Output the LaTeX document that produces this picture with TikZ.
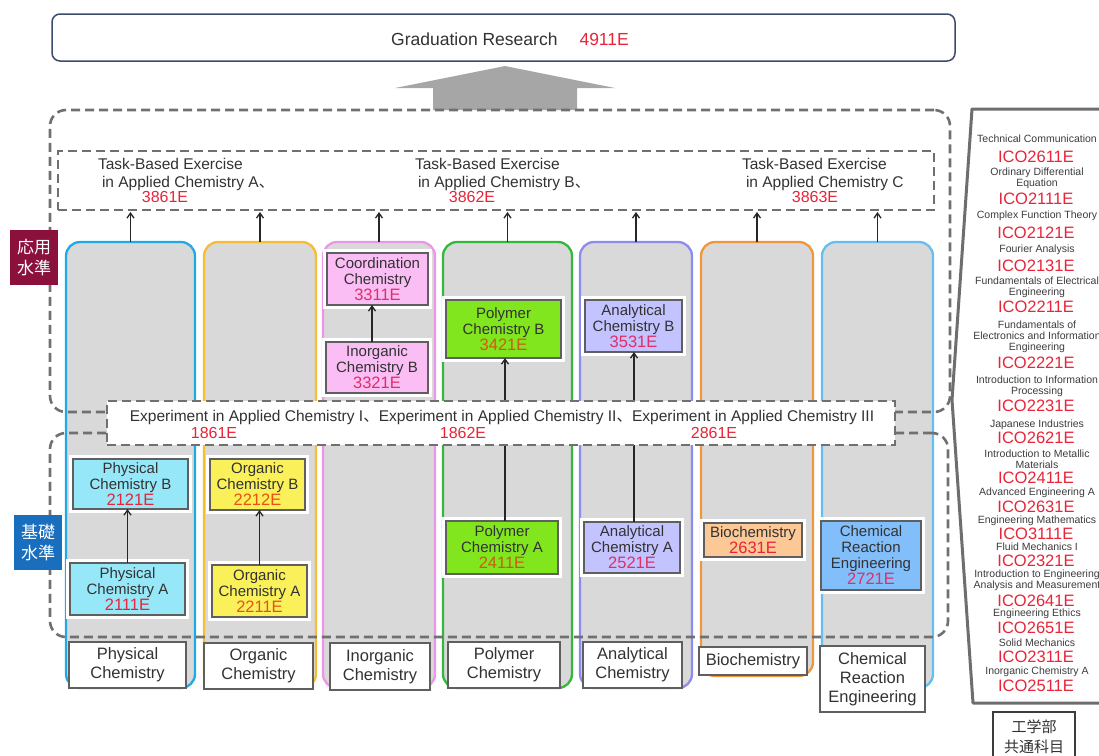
\documentclass[tikz,border=0pt]{standalone}
\usepackage{fontspec}
\setmainfont{Liberation Sans}
\newfontfamily\jpfont{Noto Sans CJK JP}
\usetikzlibrary{arrows.meta}
\definecolor{txt}{RGB}{50,50,50}
\definecolor{codered}{RGB}{232,36,56}
\definecolor{codeorange}{RGB}{232,82,20}
\definecolor{codepoly}{RGB}{205,90,20}
\definecolor{codepink}{RGB}{222,48,104}
\definecolor{gradblue}{RGB}{60,74,110}
\definecolor{arrowgray}{RGB}{166,166,166}
\definecolor{colgray}{RGB}{217,217,217}
\definecolor{dashgray}{RGB}{112,112,112}
\definecolor{boxborder}{RGB}{95,95,95}
\definecolor{physcol}{RGB}{30,170,230}
\definecolor{orgcol}{RGB}{245,190,50}
\definecolor{inorgcol}{RGB}{235,150,230}
\definecolor{polycol}{RGB}{50,185,60}
\definecolor{anacol}{RGB}{140,140,240}
\definecolor{biocol}{RGB}{240,150,60}
\definecolor{crecol}{RGB}{100,190,240}
\definecolor{physfill}{RGB}{150,232,248}
\definecolor{orgfill}{RGB}{250,240,90}
\definecolor{inorgfill}{RGB}{250,190,245}
\definecolor{polyfill}{RGB}{130,230,30}
\definecolor{anafill}{RGB}{195,195,255}
\definecolor{biofill}{RGB}{252,200,150}
\definecolor{crefill}{RGB}{130,190,250}
\definecolor{maroon}{RGB}{140,16,60}
\definecolor{lvblue}{RGB}{26,110,190}
\definecolor{pgray}{RGB}{60,60,60}
\definecolor{panelgray}{RGB}{110,110,110}
\newcommand\setfs[2]{\fontsize{#1}{#2}\selectfont}
\newcommand\ccode[2]{{\setfs{16.5}{16}\color{#1}#2}}
\begin{document}
\begin{tikzpicture}[x=1pt,y=-1pt,
  every node/.style={inner sep=0pt, outer sep=0pt, text=txt},
  colbox/.style={draw=#1, line width=2.3pt, fill=colgray, rounded corners=14pt},
  dashbox/.style={draw=dashgray, line width=2.6pt, dash pattern=on 9pt off 5pt},
  course/.style={draw=boxborder, line width=1.3pt, fill=#1, preaction={draw=white, line width=8pt}, align=center, font=\setfs{15}{16}},
  labbox/.style={draw=boxborder, line width=1.3pt, fill=white, align=center, font=\setfs{16.5}{19}},
  jbox/.style={fill=#1, text=white, align=center, font=\jpfont\setfs{17}{21}},
  arr/.style={-{Straight Barb[length=5pt,width=7pt]}, line width=1.3pt, draw=black!85},
  tasktxt/.style={font=\setfs{15.5}{18}},
  codetxt/.style={font=\setfs{16}{18}, text=codered},
  ptext/.style={align=center, font=\setfs{10.5}{11}, text=pgray},
  pcode/.style={font=\setfs{16.5}{18}, text=codered}]
\useasboundingbox (0,0) rectangle (1099,755);

% graduation research
\node[draw=gradblue, line width=1.5pt, rounded corners=8pt, minimum width=903, minimum height=47, fill=white] (grad) at (503.5,37.5) {};
\node[font=\setfs{17.5}{20}, anchor=base] (gradt) at (510,45) {Graduation Research\hspace{22pt}{\color{codered}4911E}};

% big arrow
\fill[arrowgray] (433,110) -- (433,88) -- (395,88) -- (505,66) -- (615,88) -- (577,88) -- (577,110) -- cycle;

% columns
\node[colbox=physcol, minimum width=129, minimum height=446] (c1) at (130.5,465) {};
\node[colbox=orgcol, minimum width=112, minimum height=446] (c2) at (260,465) {};
\node[colbox=inorgcol, minimum width=112, minimum height=446] (c3) at (379,465) {};
\node[colbox=polycol, minimum width=129, minimum height=446] (c4) at (507.5,465) {};
\node[colbox=anacol, minimum width=112, minimum height=446] (c5) at (636,465) {};
\node[colbox=biocol, minimum width=112, minimum height=434] (c6) at (757,459) {};
\node[colbox=crecol, minimum width=111, minimum height=446] (c7) at (877.5,465) {};

% dashed frames
\node[dashbox, rounded corners=16pt, minimum width=900, minimum height=302] (upper) at (500,261) {};
\node[dashbox, rounded corners=16pt, minimum width=898, minimum height=204] (lower) at (499,535) {};
\node[dashbox, minimum width=876, minimum height=59] (task) at (496,180.5) {};

% arrows from columns to task box
\foreach \c in {c1,c2,c3,c4,c5,c6,c7}
  \draw[arr, shorten >=2pt] (\c.north) -- (\c.north |- task.south);

% task texts
\node[tasktxt, anchor=base west] (ta1) at (98,169.5) {Task-Based Exercise};
\node[tasktxt, anchor=base west] (ta2) at (102,187.5) {in Applied Chemistry A{\jpfont 、}};
\node[codetxt] (ta3) at (165,197) {3861E};
\node[tasktxt, anchor=base west] (tb1) at (415,169.5) {Task-Based Exercise};
\node[tasktxt, anchor=base west] (tb2) at (418,187.5) {in Applied Chemistry B{\jpfont 、}};
\node[codetxt] (tb3) at (472,197) {3862E};
\node[tasktxt, anchor=base west] (tc1) at (742,169.5) {Task-Based Exercise};
\node[tasktxt, anchor=base west] (tc2) at (746,187.5) {in Applied Chemistry C};
\node[codetxt] (tc3) at (815,197) {3863E};

% course boxes
\node[course=physfill, minimum width=115, minimum height=50] (physB) at (130.5,484) {Physical\\Chemistry B\\\ccode{codered}{2121E}};
\node[course=physfill, minimum width=115, minimum height=52] (physA) at (127.5,589) {Physical\\Chemistry A\\\ccode{codered}{2111E}};
\node[course=orgfill, minimum width=95, minimum height=51] (orgB) at (257.5,484.5) {Organic\\Chemistry B\\\ccode{codeorange}{2212E}};
\node[course=orgfill, minimum width=95, minimum height=52] (orgA) at (259.5,591) {Organic\\Chemistry A\\\ccode{codeorange}{2211E}};
\node[course=inorgfill, minimum width=101, minimum height=52] (coord) at (377.5,279) {Coordination\\Chemistry\\\ccode{codepink}{3311E}};
\node[course=inorgfill, minimum width=102, minimum height=51] (inorgB) at (377,367.5) {Inorganic\\Chemistry B\\\ccode{codepink}{3321E}};
\node[course=polyfill, minimum width=115, minimum height=58] (polyB) at (503.5,329) {Polymer\\Chemistry B\\\ccode{codepoly}{3421E}};
\node[course=polyfill, minimum width=112, minimum height=53] (polyA) at (502,547.5) {Polymer\\Chemistry A\\\ccode{codepoly}{2411E}};
\node[course=anafill, minimum width=97, minimum height=52] (anaB) at (633.5,326) {Analytical\\Chemistry B\\\ccode{codepink}{3531E}};
\node[course=anafill, minimum width=96, minimum height=51] (anaA) at (632,547.5) {Analytical\\Chemistry A\\\ccode{codepink}{2521E}};
\node[course=biofill, minimum width=98, minimum height=34] (bio) at (753,540) {Biochemistry\\\ccode{codered}{2631E}};
\node[course=crefill, minimum width=100, minimum height=69] (cre) at (871,555.5) {Chemical\\Reaction\\Engineering\\\ccode{codepink}{2721E}};

% connectors between courses
\draw[arr] (physA.north) -- (physA.north |- physB.south);
\draw[arr] (orgA.north) -- (orgA.north |- orgB.south);
\draw[arr] ([xshift=-5pt]inorgB.north) -- ([xshift=-5pt]inorgB.north |- coord.south);
\draw[arr] ([xshift=3pt]polyA.north) -- ([xshift=3pt]polyA.north |- polyB.south);
\draw[arr] ([xshift=2pt]anaA.north) -- ([xshift=2pt]anaA.north |- anaB.south);

% experiment box
\node[dashbox, fill=white, minimum width=788, minimum height=44] (exp) at (501,423) {};
\node[font=\setfs{15.5}{18}, anchor=base] (expt) at (502,421.5) {Experiment in Applied Chemistry I{\jpfont 、}Experiment in Applied Chemistry II{\jpfont 、}Experiment in Applied Chemistry III};
\node[codetxt] (e1) at (214,433) {1861E};
\node[codetxt] (e2) at (463,433) {1862E};
\node[codetxt] (e3) at (714,433) {2861E};

% bottom labels
\node[labbox, minimum width=117, minimum height=46] (l1) at (127.5,665) {Physical\\Chemistry};
\node[labbox, minimum width=109, minimum height=46] (l2) at (258.5,666) {Organic\\Chemistry};
\node[labbox, minimum width=100, minimum height=47] (l3) at (380,666.5) {Inorganic\\Chemistry};
\node[labbox, minimum width=112, minimum height=46] (l4) at (504,665) {Polymer\\Chemistry};
\node[labbox, minimum width=99, minimum height=46] (l5) at (632.5,665) {Analytical\\Chemistry};
\node[labbox, minimum width=108, minimum height=28] (l6) at (753,661) {Biochemistry};
\node[labbox, minimum width=105, minimum height=66] (l7) at (872.5,679) {Chemical\\Reaction\\Engineering};

% level labels
\node[jbox=maroon, minimum width=48, minimum height=55] (lv1) at (34,257.5) {応用\\水準};
\node[jbox=lvblue, minimum width=48, minimum height=55] (lv2) at (38,542.5) {基礎\\水準};

% right panel
\draw[panelgray, line width=3pt, line join=round] (1110,109) -- (972,109) -- (952,400) -- (973,703) -- (1110,703);
\node[ptext] (p1) at (1037,139) {Technical Communication};
\node[pcode] (q1) at (1036,157) {ICO2611E};
\node[ptext] (p2) at (1037,178.5) {Ordinary Differential\\Equation};
\node[pcode] (q2) at (1036,199) {ICO2111E};
\node[ptext] (p3) at (1037,216) {Complex Function Theory};
\node[pcode] (q3) at (1036,233) {ICO2121E};
\node[ptext] (p4) at (1037,250) {Fourier Analysis};
\node[pcode] (q4) at (1036,266) {ICO2131E};
\node[ptext] (p5) at (1037,287.5) {Fundamentals of Electrical\\Engineering};
\node[pcode] (q5) at (1036,307) {ICO2211E};
\node[ptext] (p6) at (1037,336.5) {Fundamentals of\\Electronics and Information\\Engineering};
\node[pcode] (q6) at (1036,363) {ICO2221E};
\node[ptext] (p7) at (1037,386) {Introduction to Information\\Processing};
\node[pcode] (q7) at (1036,406) {ICO2231E};
\node[ptext] (p8) at (1037,425) {Japanese Industries};
\node[pcode] (q8) at (1036,438) {ICO2621E};
\node[ptext] (p9) at (1037,459) {Introduction to Metallic\\Materials};
\node[pcode] (q9) at (1036,478) {ICO2411E};
\node[ptext] (p10) at (1037,493) {Advanced Engineering A};
\node[pcode] (q10) at (1036,507) {ICO2631E};
\node[ptext] (p11) at (1037,521) {Engineering Mathematics};
\node[pcode] (q11) at (1036,534) {ICO3111E};
\node[ptext] (p12) at (1037,547) {Fluid Mechanics I};
\node[pcode] (q12) at (1036,561) {ICO2321E};
\node[ptext] (p13) at (1037,580.5) {Introduction to Engineering\\Analysis and Measurement};
\node[pcode] (q13) at (1036,601) {ICO2641E};
\node[ptext] (p14) at (1037,614) {Engineering Ethics};
\node[pcode] (q14) at (1036,628) {ICO2651E};
\node[ptext] (p15) at (1037,643) {Solid Mechanics};
\node[pcode] (q15) at (1036,657) {ICO2311E};
\node[ptext] (p16) at (1037,672) {Inorganic Chemistry A};
\node[pcode] (q16) at (1036,686) {ICO2511E};

\node[draw=pgray, line width=1.3pt, fill=white, minimum width=82, minimum height=50, align=center, font=\jpfont\setfs{15}{20}] (common) at (1034,737) {工学部\\共通科目};
\end{tikzpicture}
\end{document}
